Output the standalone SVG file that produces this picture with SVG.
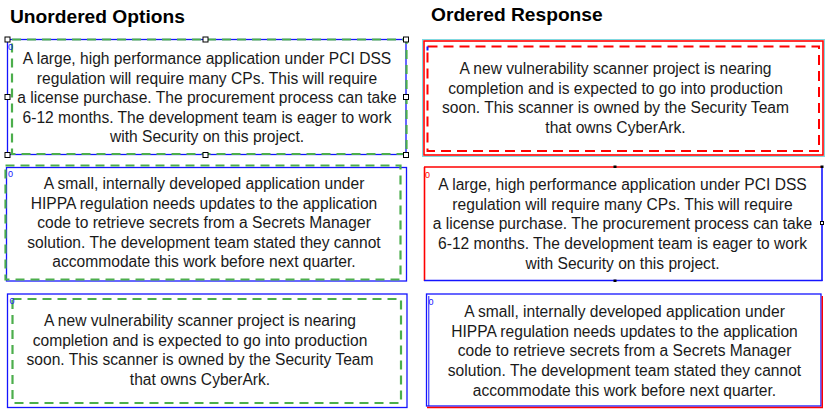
<svg xmlns="http://www.w3.org/2000/svg" width="832" height="412" viewBox="0 0 832 412">
<style>
  .title { font-family: "Liberation Sans", Arial, sans-serif; font-weight: bold; font-size: 19.2px; fill: #000; }
  .t { font-family: "Liberation Sans", Arial, sans-serif; font-size: 15.6px; fill: #1a1a1a; text-anchor: middle; }
  .idx { font-family: "Liberation Sans", Arial, sans-serif; font-size: 9px; }
  .blue { fill: none; stroke: #1414ff; stroke-width: 1.3; }
  .green { fill: none; stroke: #4cae4c; stroke-width: 2.2; stroke-dasharray: 9 6; }
  .red { fill: none; stroke: #ff0000; stroke-width: 1.6; }
  .reddash { fill: none; stroke: #ff0000; stroke-width: 2; stroke-dasharray: 10 6; }
  .cyan { fill: none; stroke: #7fd8e0; stroke-width: 1; }
  .h { fill: #fff; stroke: #000; stroke-width: 1; }
  .hs { fill: #000; }
</style>
<rect width="832" height="412" fill="#ffffff"/>
<text class="title" x="10" y="23">Unordered Options</text>
<text class="title" x="431" y="21">Ordered Response</text>

<g id="opt1">
  <rect class="blue" x="7.5" y="39.5" width="398.5" height="115"/>
  <rect class="green" x="12" y="39.5" width="394.5" height="114.5"/>
  <text class="idx" x="8" y="50" fill="#1414ff">0</text>
  <text class="t" x="207" y="64">A large, high performance application under PCI DSS</text>
  <text class="t" x="207" y="83.5">regulation will require many CPs. This will require</text>
  <text class="t" x="207" y="103">a license purchase. The procurement process can take</text>
  <text class="t" x="207" y="122.5">6-12 months. The development team is eager to work</text>
  <text class="t" x="207" y="142">with Security on this project.</text>
  <rect class="h" x="5" y="37" width="5" height="5"/>
  <rect class="h" x="203" y="37" width="5" height="5"/>
  <rect class="h" x="403.5" y="37" width="5" height="5"/>
  <rect class="h" x="5" y="94.5" width="5" height="5"/>
  <rect class="h" x="403.5" y="94.5" width="5" height="5"/>
  <rect class="h" x="5" y="152.5" width="5" height="5"/>
  <rect class="h" x="203" y="152.5" width="5" height="5"/>
  <rect class="h" x="403.5" y="152.5" width="5" height="5"/>
</g>

<g id="opt2">
  <rect class="blue" x="6.5" y="167.5" width="400" height="113.5"/>
  <rect class="green" x="5.5" y="165.5" width="395" height="114"/>
  <text class="idx" x="8" y="177" fill="#1414ff">0</text>
  <text class="t" x="204" y="189">A small, internally developed application under</text>
  <text class="t" x="204" y="208.5">HIPPA regulation needs updates to the application</text>
  <text class="t" x="204" y="228">code to retrieve secrets from a Secrets Manager</text>
  <text class="t" x="204" y="247.5">solution. The development team stated they cannot</text>
  <text class="t" x="204" y="267">accommodate this work before next quarter.</text>
</g>

<g id="opt3">
  <rect class="blue" x="7.5" y="294" width="399.5" height="113.5"/>
  <rect class="green" x="12.5" y="299" width="388.5" height="104"/>
  <text class="idx" x="9.5" y="304" fill="#1414ff">0</text>
  <text class="t" x="200" y="326">A new vulnerability scanner project is nearing</text>
  <text class="t" x="200" y="345.5">completion and is expected to go into production</text>
  <text class="t" x="200" y="365">soon. This scanner is owned by the Security Team</text>
  <text class="t" x="200" y="384.5">that owns CyberArk.</text>
</g>

<g id="resp1">
  <rect class="cyan" x="422.5" y="39.5" width="402" height="117"/>
  <rect class="red" x="424" y="41" width="399" height="114"/>
  <rect class="reddash" x="427.5" y="46.5" width="391.5" height="104.5"/>
  <rect x="426.5" y="46.5" width="2" height="4" fill="#1414ff"/>
  <text class="t" x="615.5" y="74">A new vulnerability scanner project is nearing</text>
  <text class="t" x="615.5" y="93.5">completion and is expected to go into production</text>
  <text class="t" x="615.5" y="113">soon. This scanner is owned by the Security Team</text>
  <text class="t" x="615.5" y="132.5">that owns CyberArk.</text>
</g>

<g id="resp2">
  <line x1="424" y1="167" x2="822" y2="167" stroke="#ff0000" stroke-width="1.6"/>
  <line x1="424.5" y1="167" x2="424.5" y2="281" stroke="#ff0000" stroke-width="1.6"/>
  <line x1="822" y1="167" x2="822" y2="281" stroke="#1414ff" stroke-width="1.6"/>
  <line x1="424" y1="280.5" x2="822.5" y2="280.5" stroke="#1414ff" stroke-width="1.6"/>
  <rect class="hs" x="613.5" y="165.5" width="3" height="2.5"/>
  <rect class="hs" x="613.5" y="279.5" width="3" height="2.5"/>
  <rect class="h" x="820.5" y="221.5" width="3" height="3"/>
  <rect class="hs" x="820.5" y="165.5" width="3" height="2.5"/>
  <text class="idx" x="425" y="178" fill="#ff0000">0</text>
  <text class="t" x="622.5" y="190">A large, high performance application under PCI DSS</text>
  <text class="t" x="622.5" y="209.7">regulation will require many CPs. This will require</text>
  <text class="t" x="622.5" y="229.4">a license purchase. The procurement process can take</text>
  <text class="t" x="622.5" y="249">6-12 months. The development team is eager to work</text>
  <text class="t" x="622.5" y="269">with Security on this project.</text>
</g>

<g id="resp3">
  <rect class="blue" x="426.5" y="294" width="394.5" height="112"/>
  <line x1="428.8" y1="296" x2="428.8" y2="406" stroke="#1414ff" stroke-width="1"/>
  <line x1="822.3" y1="296" x2="822.3" y2="408" stroke="#ff0000" stroke-width="1.4"/>
  <line x1="427" y1="407.5" x2="823" y2="407.5" stroke="#ff0000" stroke-width="1.4"/>
  <text class="idx" x="428.5" y="305" fill="#1414ff">0</text>
  <text class="t" x="624.5" y="316.7">A small, internally developed application under</text>
  <text class="t" x="624.5" y="336.5">HIPPA regulation needs updates to the application</text>
  <text class="t" x="624.5" y="356">code to retrieve secrets from a Secrets Manager</text>
  <text class="t" x="624.5" y="375.7">solution. The development team stated they cannot</text>
  <text class="t" x="624.5" y="395.5">accommodate this work before next quarter.</text>
</g>

<g id="connectors"></g>
</svg>
